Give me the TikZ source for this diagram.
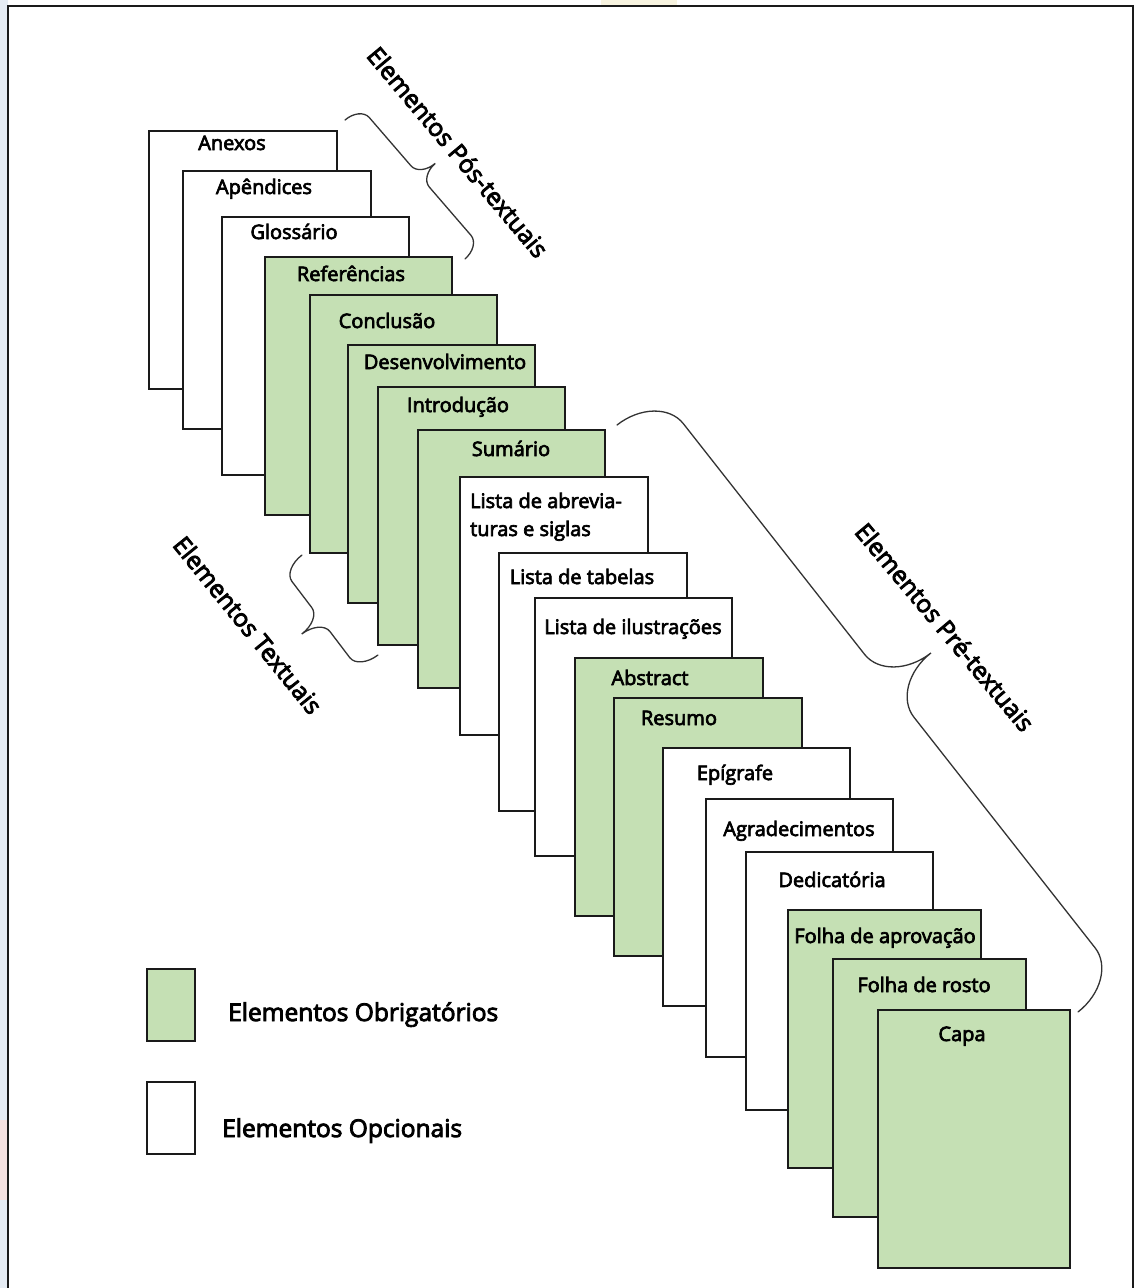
\documentclass[tikz,border=0pt]{standalone}
\usepackage{fontspec}
\setmainfont{Open Sans}
\newfontfamily\lblfont{Open Sans}[FakeBold=3.5]
\definecolor{reqgreen}{HTML}{C5E0B4}
\definecolor{inkline}{HTML}{1A1A1A}
\definecolor{braceline}{HTML}{333333}
\definecolor{edgeblue}{HTML}{E6ECF4}
\definecolor{edgepink}{HTML}{F4E1E0}
\definecolor{edgeyellow}{HTML}{F7F3DF}

% Curly brace in the style of an office drawing tool.
% #2 start point, #3 rotation, #4 length, #5 signed half-amplitude, #6 end radius
\newcommand\officebrace[6][]{%
  \begin{scope}[shift={#2}, rotate=#3]
    \draw[bracestroke,#1]
      (0,0) .. controls (0,{0.5523*(#5)}) and ({0.4477*#6},{#5}) .. ({#6},{#5})
      -- ({#4/2-#6},{#5})
      .. controls ({#4/2-0.4477*#6},{#5}) and ({#4/2},{1.4477*(#5)}) .. ({#4/2},{2*(#5)})
      .. controls ({#4/2},{1.4477*(#5)}) and ({#4/2+0.4477*#6},{#5}) .. ({#4/2+#6},{#5})
      -- ({#4-#6},{#5})
      .. controls ({#4-0.4477*#6},{#5}) and ({#4},{0.5523*(#5)}) .. ({#4},0);
  \end{scope}}

\begin{document}
\begin{tikzpicture}[x=1pt, y=-1pt,
  sheet/.style={draw=inkline, line width=1.6pt, anchor=north west,
    minimum height=258pt, inner sep=0pt, outer sep=0pt},
  mandatory/.style={sheet, fill=reqgreen},
  optional/.style={sheet, fill=white},
  lbl/.style={font=\lblfont\fontsize{20}{24}\selectfont, anchor=base,
    inner sep=0pt, text=black},
  grouplbl/.style={font=\lblfont\fontsize{24.5}{28}\selectfont, anchor=center,
    inner sep=0pt, text=black},
  legendlbl/.style={font=\lblfont\fontsize{24.5}{28}\selectfont, anchor=base west,
    inner sep=0pt, text=black},
  bracestroke/.style={draw=braceline, line width=1.3pt, line cap=round},
  legendbox/.style={draw=inkline, line width=1.6pt, anchor=north west,
    minimum width=48pt, minimum height=72pt, inner sep=0pt, outer sep=0pt}
]
\useasboundingbox (0,0) rectangle (1135,1288);
\fill[white] (0,0) rectangle (1135,1288);

% faint page edge tints outside the frame
\fill[edgeblue] (0,0) rectangle (8,1288);
\fill[edgepink] (0,1120) rectangle (8,1200);
\fill[edgeyellow] (601,0) rectangle (677,5);

% frame
\draw[inkline, line width=2pt] (8,1292) -- (8,6) -- (1133,6) -- (1133,1292);

% stacked sheets, back to front
\node[optional,  minimum width=188pt] (anexos)  at (149,131) {};
\node[lbl] (anexosT) at (232,150) {Anexos};
\node[optional,  minimum width=188pt] (apend)   at (183,171) {};
\node[lbl] (apendT) at (264,194) {Apêndices};
\node[optional,  minimum width=187pt] (gloss)   at (222,217) {};
\node[lbl] (glossT) at (294,239) {Glossário};
\node[mandatory, minimum width=187pt] (refs)    at (265,257) {};
\node[lbl] (refsT) at (351,281) {Referências};
\node[mandatory, minimum width=187pt] (concl)   at (310,295) {};
\node[lbl] (conclT) at (387,328) {Conclusão};
\node[mandatory, minimum width=187pt] (desenv)  at (348,345) {};
\node[lbl] (desenvT) at (445,369) {Desenvolvimento};
\node[mandatory, minimum width=187pt] (intro)   at (378,387) {};
\node[lbl] (introT) at (458,412) {Introdução};
\node[mandatory, minimum width=187pt] (sumario) at (418,430) {};
\node[lbl] (sumarioT) at (511,456) {Sumário};
\node[optional,  minimum width=188pt] (abrev)   at (460,477) {};
\node[lbl, anchor=base west] (abrevT1) at (470,508) {Lista de abrevia-};
\node[lbl, anchor=base west] (abrevT2) at (470,536) {turas e siglas};
\node[optional,  minimum width=188pt] (tabelas) at (499,553) {};
\node[lbl] (tabelasT) at (582,584) {Lista de tabelas};
\node[optional,  minimum width=197pt] (ilustr)  at (535,598) {};
\node[lbl] (ilustrT) at (633,634) {Lista de ilustrações};
\node[mandatory, minimum width=188pt] (abstr)   at (575,658) {};
\node[lbl] (abstrT) at (650,685) {Abstract};
\node[mandatory, minimum width=188pt] (resumo)  at (614,698) {};
\node[lbl] (resumoT) at (679,725) {Resumo};
\node[optional,  minimum width=187pt] (epigr)   at (663,748) {};
\node[lbl] (epigrT) at (735,780) {Epígrafe};
\node[optional,  minimum width=187pt] (agrad)   at (706,799) {};
\node[lbl] (agradT) at (799,836) {Agradecimentos};
\node[optional,  minimum width=187pt] (dedic)   at (746,852) {};
\node[lbl] (dedicT) at (832,887) {Dedicatória};
\node[mandatory, minimum width=193pt] (aprov)   at (788,910) {};
\node[lbl] (aprovT) at (885,943) {Folha de aprovação};
\node[mandatory, minimum width=193pt] (rosto)   at (833,959) {};
\node[lbl] (rostoT) at (924,992) {Folha de rosto};
\node[mandatory, minimum width=192pt] (capa)    at (878,1010) {};
\node[lbl] (capaT) at (962,1041) {Capa};

% group braces
\officebrace{(345,120)}{-49.2}{183.6}{-20}{14}
\officebrace{(617,425)}{-51.85}{746.4}{-53}{40}
\officebrace{(302,555)}{-52.8}{125.6}{24}{15}

% group labels
\node[grouplbl, rotate=-50] (posT) at (458,152) {Elementos Pós-textuais};
\node[grouplbl, rotate=-50] (preT) at (945,627) {Elementos Pré-textuais};
\node[grouplbl, rotate=-51] (textT) at (248,625) {Elementos Textuais};

% legend
\node[legendbox, fill=reqgreen] (legReq) at (147,969) {};
\node[legendlbl] (legReqT) at (228,1021) {Elementos Obrigatórios};
\node[legendbox, fill=white] (legOpt) at (147,1082) {};
\node[legendlbl] (legOptT) at (222,1137) {Elementos Opcionais};
\end{tikzpicture}
\end{document}
